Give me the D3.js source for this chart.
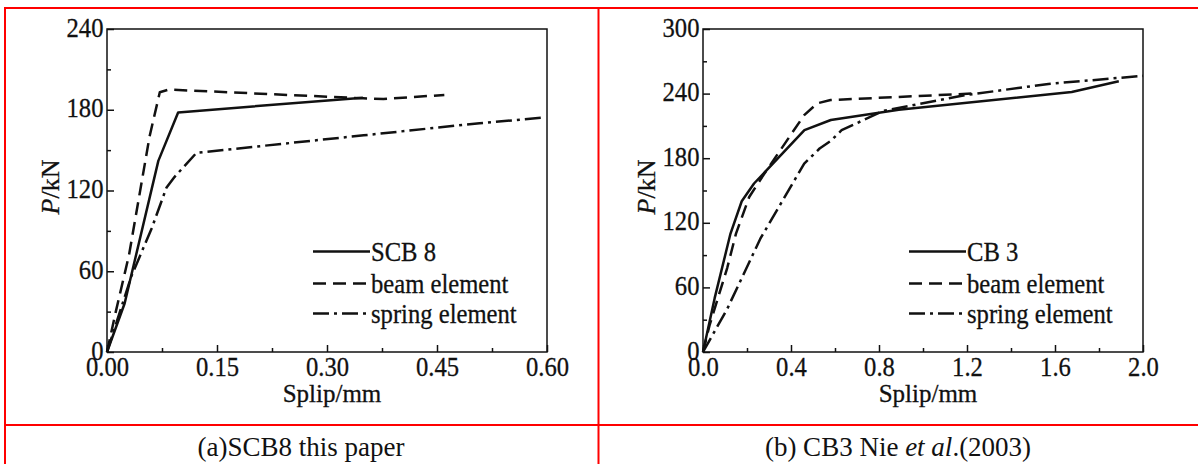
<!DOCTYPE html>
<html><head><meta charset="utf-8">
<script src="https://cdn.jsdelivr.net/npm/d3@7"></script>
<style>body{margin:0;background:#fff}svg{display:block}</style>
</head><body>
<svg id="c" width="1198" height="464"></svg>
<script>
// ---- tick labels ----
const leftXTicks=[0,0.15,0.30,0.45,0.60];
const leftXLabels=["0.00","0.15","0.30","0.45","0.60"];
const leftXMinor=[0.075,0.225,0.375,0.525];
const leftYTicks=[0,60,120,180,240];
const leftYMinor=[30,90,150,210];
const rightXTicks=[0,0.4,0.8,1.2,1.6,2.0];
const rightXLabels=["0.0","0.4","0.8","1.2","1.6","2.0"];
const rightXMinor=[0.2,0.6,1.0,1.4,1.8];
const rightYTicks=[0,60,120,180,240,300];
const rightYMinor=[30,90,150,210,270];

// ---- series: (a) SCB8 ----
const scb8Slip=[0,0.024,0.070,0.097,0.349];
const scb8Load=[0,36,142,178,189];
const beamASlip=[0,0.012,0.030,0.058,0.072,0.084,0.349,0.377,0.460];
const beamALoad=[0,30,72,160,193,195,188.5,188,191];
const springASlip=[0,0.033,0.061,0.081,0.092,0.122,0.350,0.508,0.592];
const springALoad=[0,56,92,122,130,148,161,170,174];

// ---- series: (b) CB3 ----
const cb3Slip=[0,0.053,0.125,0.176,0.232,0.461,0.581,0.890,1.676,1.890];
const cb3Load=[0,50,110,140,156.5,206,215.5,225,241.5,251.5];
const beamBSlip=[0,0.03,0.11,0.15,0.21,0.28,0.46,0.52,0.58,1.22];
const beamBLoad=[0,25,78,110,144,166,220,231,234,240];
const springBSlip=[0,0.11,0.26,0.46,0.53,0.58,0.63,0.82,1.19,1.57,2.0];
const springBLoad=[0,40,105,175,189,196,206,224,238.5,249,256.5];

const legendA=["SCB 8","beam element","spring element"];
const legendB=["CB 3","beam element","spring element"];

const FONT='"Liberation Serif","Times New Roman",Times,serif';
const SX=0.88;
const svg=d3.select("#c");
const styles=[{dash:null},{dash:"13,7"},{dash:"16,5,3,5"}];

function panel(o){
  const g=svg.append("g");
  const x=d3.scaleLinear().domain(o.xDomain).range([o.left,o.left+440]);
  const y=d3.scaleLinear().domain(o.yDomain).range([352,29]);
  g.append("rect").attr("x",o.left).attr("y",29).attr("width",440).attr("height",323)
    .attr("fill","none").attr("stroke","#111").attr("stroke-width",1.5);
  const fix=s=>{s.select(".domain").remove();s.selectAll("line").attr("stroke","#111").attr("stroke-width",1.5);};
  g.append("g").attr("transform","translate(0,352)")
    .call(d3.axisBottom(x).tickValues(o.xMinor).tickSize(-4).tickSizeOuter(0).tickFormat("")).call(fix);
  g.append("g").attr("transform",`translate(${o.left},0)`)
    .call(d3.axisLeft(y).tickValues(o.yMinor).tickSize(-4).tickSizeOuter(0).tickFormat("")).call(fix);
  const xa=g.append("g").attr("transform","translate(0,352)")
    .call(d3.axisBottom(x).tickValues(o.xTicks).tickFormat((d,i)=>o.xLabels[i]).tickSize(-7).tickSizeOuter(0).tickPadding(4)).call(fix);
  const ya=g.append("g").attr("transform",`translate(${o.left},0)`)
    .call(d3.axisLeft(y).tickValues(o.yTicks).tickFormat(d=>String(d)).tickSize(-7).tickSizeOuter(0).tickPadding(4)).call(fix);
  [xa,ya].forEach(a=>{a.attr("font-size",28).attr("font-family",FONT);
    a.selectAll("text").attr("fill","#111").attr("stroke","#111").attr("stroke-width",0.3)
      .attr("transform",`scale(${SX},1)`);});
  ya.selectAll("text").attr("dy","0.25em");
  // curves
  const line=d3.line().x(d=>x(d[0])).y(d=>y(d[1]));
  o.series.forEach((s,k)=>{
    const pts=s.xs.map((v,i)=>[v,s.ys[i]]);
    g.append("path").attr("d",line(pts)).attr("fill","none").attr("stroke","#111")
      .attr("stroke-width",2.5).attr("stroke-linejoin","round")
      .attr("stroke-dasharray",styles[k].dash);
  });
  // legend
  const ly=[251.5,283.5,313.5];
  o.legend.forEach((name,k)=>{
    g.append("line").attr("x1",o.left+206).attr("x2",o.left+263).attr("y1",ly[k]).attr("y2",ly[k])
      .attr("stroke","#111").attr("stroke-width",2.5).attr("stroke-dasharray",styles[k].dash);
    g.append("g").attr("transform",`translate(${o.left+264},${ly[k]+9}) scale(${SX},1)`)
      .append("text").attr("font-family",FONT).attr("font-size",28).attr("fill","#111")
      .attr("stroke","#111").attr("stroke-width",0.3).text(name);
  });
  // axis titles
  g.append("text").attr("x",o.left+225).attr("y",402).attr("text-anchor","middle")
    .attr("font-family",FONT).attr("font-size",25).attr("fill","#111")
    .attr("stroke","#111").attr("stroke-width",0.3).text("Splip/mm");
  const yt=g.append("g").attr("transform",`translate(${o.left-48},187) rotate(-90)`)
    .append("text").attr("text-anchor","middle").attr("font-family",FONT).attr("font-size",26)
    .attr("fill","#111").attr("stroke","#111").attr("stroke-width",0.3);
  yt.append("tspan").attr("font-style","italic").text("P");
  yt.append("tspan").text("/kN");
}

panel({left:107,xDomain:[0,0.6],yDomain:[0,240],xTicks:leftXTicks,xLabels:leftXLabels,xMinor:leftXMinor,
  yTicks:leftYTicks,yMinor:leftYMinor,legend:legendA,
  series:[{xs:scb8Slip,ys:scb8Load},{xs:beamASlip,ys:beamALoad},{xs:springASlip,ys:springALoad}]});
panel({left:703,xDomain:[0,2.0],yDomain:[0,300],xTicks:rightXTicks,xLabels:rightXLabels,xMinor:rightXMinor,
  yTicks:rightYTicks,yMinor:rightYMinor,legend:legendB,
  series:[{xs:cb3Slip,ys:cb3Load},{xs:beamBSlip,ys:beamBLoad},{xs:springBSlip,ys:springBLoad}]});

// table borders
const red="#f00";
[[4,8,1198,8],[4,425,1198,425],[5,8,5,464],[598.5,8,598.5,464]].forEach(l=>{
  svg.append("line").attr("x1",l[0]).attr("y1",l[1]).attr("x2",l[2]).attr("y2",l[3])
    .attr("stroke",red).attr("stroke-width",2);
});

// captions
const c1=svg.append("text").attr("x",301).attr("y",456).attr("text-anchor","middle")
  .attr("font-family",FONT).attr("font-size",27).attr("fill","#111").text("(a)SCB8 this paper");
const c2=svg.append("text").attr("x",898).attr("y",456).attr("text-anchor","middle")
  .attr("font-family",FONT).attr("font-size",27).attr("fill","#111");
c2.append("tspan").text("(b) CB3 Nie ");
c2.append("tspan").attr("font-style","italic").text("et al");
c2.append("tspan").text(".(2003)");
</script>
</body></html>
